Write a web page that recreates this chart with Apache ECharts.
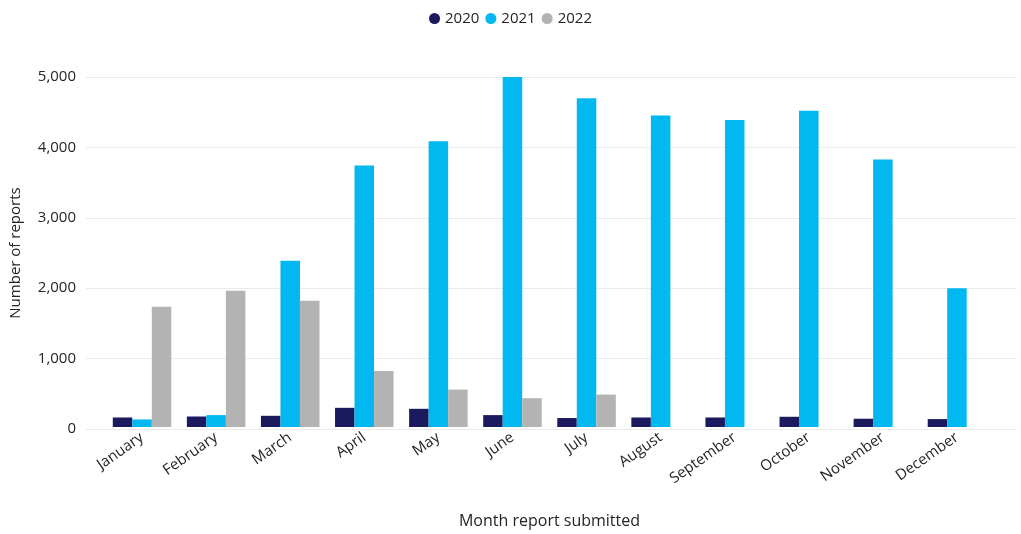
<!DOCTYPE html>
<html>
<head>
<meta charset="utf-8">
<script src="https://cdn.jsdelivr.net/npm/echarts@6/dist/echarts.min.js"></script>
<style>
  html, body { margin: 0; padding: 0; background: #fff; }
  #chart { width: 1021px; height: 534px; }
</style>
</head>
<body>
<div id="chart"></div>
<script>
// data
var months = ['January', 'February', 'March', 'April', 'May', 'June', 'July', 'August', 'September', 'October', 'November', 'December'];
var years = ['2020', '2021', '2022'];
var reports2020 = [136, 150, 160, 274, 260, 170, 128, 136, 136, 146, 118, 113];
var reports2021 = [108, 170, 2376, 3736, 4081, 5000, 4696, 4450, 4384, 4517, 3821, 1983];
var reports2022 = [1719, 1946, 1804, 800, 534, 412, 463, null, null, null, null, null];
var yTicks = [0, 1000, 2000, 3000, 4000, 5000];

var colors = ['#1c1a5e', '#01b8f0', '#b3b3b3'];
var font = '"Open Sans", "Noto Sans", sans-serif';
var textColor = '#252423';

var myChart = echarts.init(document.getElementById('chart'));

var allData = [reports2020, reports2021, reports2022];
var list = [];
for (var i = 0; i < years.length; i++) {
    list.push({
        name: years[i],
        type: 'bar',
        xAxisIndex: 1,
        yAxisIndex: 1,
        data: allData[i],
        barGap: '0%',
        barCategoryGap: '21%',
        itemStyle: { color: colors[i] }
    });
}

var option = {
    color: colors,
    legend: {
        top: 6,
        left: 'center',
        icon: 'circle',
        itemWidth: 11,
        itemHeight: 11,
        itemGap: 6,
        textStyle: { color: textColor, fontSize: 15, fontFamily: font },
        data: years
    },
    // grid 0 carries the wide gridlines and y labels, grid 1 the bars
    grid: [
        { left: 84, right: 4, top: 77, bottom: 105 },
        { left: 105, right: 27, top: 77, bottom: 105 }
    ],
    xAxis: [
        {
            gridIndex: 0,
            type: 'category',
            data: months,
            show: false
        },
        {
            gridIndex: 1,
            type: 'category',
            data: months,
            name: 'Month report submitted',
            nameLocation: 'middle',
            nameGap: 86,
            nameTextStyle: { color: textColor, fontSize: 16, fontFamily: font },
            axisTick: { show: false },
            axisLine: { show: false },
            axisLabel: {
                interval: 0,
                rotate: 35,
                margin: 9,
                color: textColor,
                fontSize: 15,
                fontFamily: font
            }
        }
    ],
    yAxis: [
        {
            gridIndex: 0,
            type: 'value',
            min: yTicks[0],
            max: yTicks[yTicks.length - 1],
            interval: 1000,
            name: 'Number of reports',
            nameLocation: 'middle',
            nameGap: 63,
            nameTextStyle: { color: textColor, fontSize: 15, fontFamily: font },
            axisLine: { show: false },
            axisTick: { show: false },
            axisLabel: {
                margin: 10,
                color: textColor,
                fontSize: 15,
                fontFamily: font,
                formatter: function (v) { return v.toLocaleString('en-US'); }
            },
            splitLine: { lineStyle: { color: '#ebebeb', width: 1 } }
        },
        {
            gridIndex: 1,
            type: 'value',
            min: yTicks[0],
            max: yTicks[yTicks.length - 1],
            interval: 1000,
            show: false,
            splitLine: { show: false }
        }
    ],
    series: list
};

myChart.setOption(option);
</script>
</body>
</html>
